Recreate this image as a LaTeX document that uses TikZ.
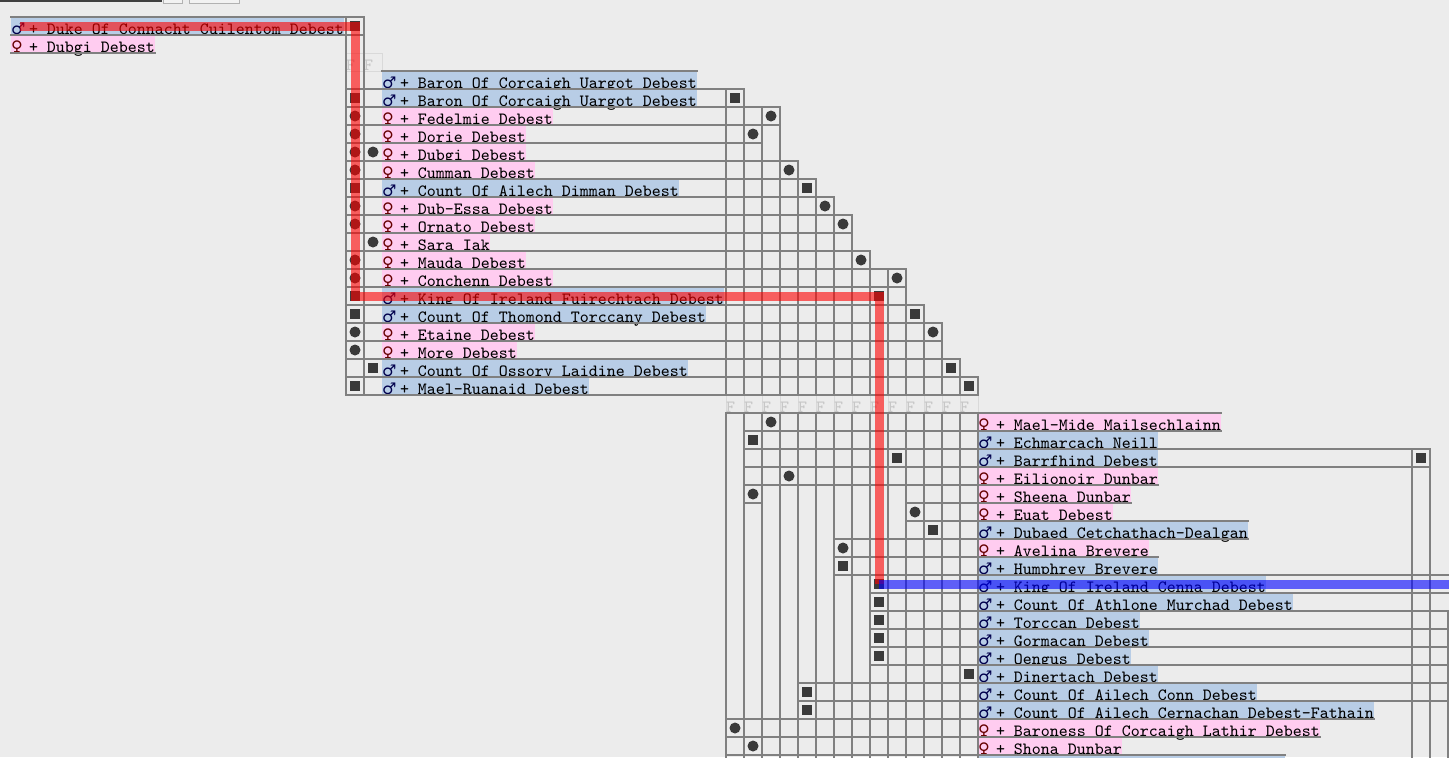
\documentclass[tikz,border=0pt]{standalone}
\usepackage{fontspec}
\usepackage{tikz}
\usetikzlibrary{positioning}

\newfontfamily\gsym{DejaVu Sans}
\definecolor{bgpaper}{RGB}{236,236,236}
\definecolor{gridgrey}{RGB}{128,128,128}
\definecolor{markgrey}{RGB}{58,58,58}
\definecolor{heblue}{RGB}{184,205,230}
\definecolor{shepink}{RGB}{255,204,240}
\newcommand\hesym{\makebox[4.5pt][l]{\gsym\fontsize{8pt}{9pt}\selectfont\color{black!70!blue}♂}}
\newcommand\shesym{\makebox[4.5pt][l]{\gsym\fontsize{8pt}{9pt}\selectfont\color{black!60!red}♀}}

\begin{document}
\begin{tikzpicture}[
  x=0.5pt, y=-0.5pt,
  person/.style={anchor=north west, inner sep=0pt, outer sep=0pt, minimum height=9pt, text height=8.5pt, text depth=0.5pt, font=\ttfamily\fontsize{8.57pt}{9pt}\selectfont},
  he/.style={person, fill=heblue},
  she/.style={person, fill=shepink},
  under/.style={below=0pt of #1.south west, anchor=north west},
  fcell/.style={person, text width=9pt, align=left, draw=black!15, text=black!22},
  gline/.style={draw=gridgrey, line width=1pt, line cap=rect},
  sq/.style={fill=markgrey, minimum size=5pt, inner sep=0pt},
  dot/.style={circle, fill=markgrey, minimum size=5.5pt, inner sep=0pt},
  redband/.style={draw=red, draw opacity=0.6, line width=4.5pt},
  blueband/.style={draw=blue, draw opacity=0.6, line width=4.5pt}
]
\useasboundingbox (0,0) rectangle (1449,757);
\clip (0,0) rectangle (1449,757);
\fill[bgpaper] (0,0) rectangle (1449,757);

% search box and buttons cut off at the top
\draw[black!75, line width=1pt] (-5,1) -- (161,1) -- (161,-10);
\draw[black!30, fill=black!5] (163,-10) rectangle (182,3);
\draw[black!30, fill=black!5] (189,-10) rectangle (239,3);

% family headers
\foreach \x [count=\i] in {346,364} \node[fcell] (ft\i) at (\x,53) {F};
\foreach \x [count=\i] in {726,744,...,960} \node[fcell] (fb\i) at (\x,395) {F};

% persons
\node[he] (duke) at (11,17) {\hesym{} + Duke Of Connacht Cuilentom Debest};
\node[she, under=duke] (dubgiA) {\shesym{} + Dubgi Debest};

\node[he] (baronA) at (382,71) {\hesym{} + Baron Of Corcaigh Uargot Debest};
\node[he, under=baronA] (baronB) {\hesym{} + Baron Of Corcaigh Uargot Debest};
\node[she, under=baronB] (fedelmie) {\shesym{} + Fedelmie Debest};
\node[she, under=fedelmie] (dorie) {\shesym{} + Dorie Debest};
\node[she, under=dorie] (dubgiB) {\shesym{} + Dubgi Debest};
\node[she, under=dubgiB] (cumman) {\shesym{} + Cumman Debest};
\node[he, under=cumman] (dimman) {\hesym{} + Count Of Ailech Dimman Debest};
\node[she, under=dimman] (dubessa) {\shesym{} + Dub-Essa Debest};
\node[she, under=dubessa] (ornato) {\shesym{} + Ornato Debest};
\node[she, under=ornato] (sara) {\shesym{} + Sara Iak};
\node[she, under=sara] (mauda) {\shesym{} + Mauda Debest};
\node[she, under=mauda] (conchenn) {\shesym{} + Conchenn Debest};
\node[he, under=conchenn] (fuirechtach) {\hesym{} + King Of Ireland Fuirechtach Debest};
\node[he, under=fuirechtach] (torccany) {\hesym{} + Count Of Thomond Torccany Debest};
\node[she, under=torccany] (etaine) {\shesym{} + Etaine Debest};
\node[she, under=etaine] (more) {\shesym{} + More Debest};
\node[he, under=more] (laidine) {\hesym{} + Count Of Ossory Laidine Debest};
\node[he, under=laidine] (maelruanaid) {\hesym{} + Mael-Ruanaid Debest};

\node[she] (maelmide) at (978,413) {\shesym{} + Mael-Mide Mailsechlainn};
\node[he, under=maelmide] (echmarcach) {\hesym{} + Echmarcach Neill};
\node[he, under=echmarcach] (barrfhind) {\hesym{} + Barrfhind Debest};
\node[she, under=barrfhind] (eilionoir) {\shesym{} + Eilionoir Dunbar};
\node[she, under=eilionoir] (sheena) {\shesym{} + Sheena Dunbar};
\node[she, under=sheena] (euat) {\shesym{} + Euat Debest};
\node[he, under=euat] (dubaed) {\hesym{} + Dubaed Cetchathach-Dealgan};
\node[she, under=dubaed] (avelina) {\shesym{} + Avelina Brevere};
\node[he, under=avelina] (humphrey) {\hesym{} + Humphrey Brevere};
\node[he, under=humphrey] (cenna) {\hesym{} + King Of Ireland Cenna Debest};
\node[he, under=cenna] (murchad) {\hesym{} + Count Of Athlone Murchad Debest};
\node[he, under=murchad] (torccan) {\hesym{} + Torccan Debest};
\node[he, under=torccan] (gormacan) {\hesym{} + Gormacan Debest};
\node[he, under=gormacan] (oengus) {\hesym{} + Oengus Debest};
\node[he, under=oengus] (dinertach) {\hesym{} + Dinertach Debest};
\node[he, under=dinertach] (conn) {\hesym{} + Count Of Ailech Conn Debest};
\node[he, under=conn] (cernachan) {\hesym{} + Count Of Ailech Cernachan Debest-Fathain};
\node[she, under=cernachan] (lathir) {\shesym{} + Baroness Of Corcaigh Lathir Debest};
\node[she, under=lathir] (shona) {\shesym{} + Shona Dunbar};
\fill[heblue] (978,755) rectangle (1285,762);

% table rules
\foreach \y/\a/\b in {17/11/364, 35/11/364, 89/346/744, 107/346/780, 125/346/780, 143/346/762,
    161/346/798, 179/346/816, 197/346/834, 215/346/852, 233/346/852, 251/346/870, 269/346/906,
    287/346/906, 305/346/924, 323/346/942, 341/346/942, 359/346/960, 377/346/978, 395/346/978,
    413/726/978, 431/744/978, 449/744/1430, 467/744/1430, 485/744/978, 503/744/762, 503/906/978,
    521/906/978, 539/834/978, 557/834/978, 575/834/1449, 593/870/1449, 611/870/1449, 629/870/1449,
    647/870/1449, 665/870/1449, 683/798/1449, 701/798/1449, 719/726/978, 737/726/978, 755/726/1285}
  \draw[gline] (\a,\y) -- (\b,\y);
\foreach \x/\a/\b in {346/17/395, 364/17/395, 726/89/395, 744/89/395, 762/107/395, 780/107/395,
    798/161/395, 816/179/395, 834/197/395, 852/215/395, 870/251/395, 888/269/395, 906/269/395,
    924/305/395, 942/323/395, 960/359/395, 978/377/395, 1412/449/760, 1430/449/760, 1448/611/760}
  \draw[gline] (\x,\a) -- (\x,\b);
\foreach \x in {726,744,...,978} \draw[gline] (\x,413) -- (\x,760);
\draw[gline] (dubgiA.south west) -- (dubgiA.south east);
\draw[gline] (baronA.north west) -- (baronA.north east);
\foreach \n in {maelmide,eilionoir,sheena,euat,dubaed,avelina,humphrey,cernachan,lathir,shona}
  \draw[gline] (\n.north west) -- (\n.north east) (\n.south west) -- (\n.south east);

% fathers and mothers
\node[sq] (dukesq) at (355,26) {};
\node[sq] (fuirsqL) at (355,296) {};
\node[sq] (fuirsqR) at (879,296) {};
\node[sq] (cennasq) at (879,584) {};
\foreach \x/\y [count=\i] in {355/98, 355/188, 355/314, 373/368, 355/386, 735/98, 807/188, 915/314,
    951/368, 969/386, 753/440, 897/458, 1421/458, 933/530, 843/566, 879/602, 879/620, 879/638,
    879/656, 969/674, 807/692, 807/710}
  \node[sq] (sq\i) at (\x,\y) {};
\foreach \x/\y [count=\i] in {355/116, 355/134, 355/152, 373/152, 355/170, 355/206, 355/224, 373/242,
    355/260, 355/278, 355/332, 355/350, 771/116, 753/134, 789/170, 825/206, 843/224, 861/260,
    897/278, 933/332, 771/422, 789/476, 753/494, 915/512, 843/548, 735/728, 753/746}
  \node[dot] (dot\i) at (\x,\y) {};

% line of descent
\coordinate (redstart) at (20,26);
\coordinate (blueend) at (1449,584);
\draw[redband] (redstart) -- (dukesq.center) -- (fuirsqL.center) -- (fuirsqR.center) -- (cennasq.center);
\draw[blueband] (cennasq.center) -- (blueend);
\end{tikzpicture}
\end{document}
